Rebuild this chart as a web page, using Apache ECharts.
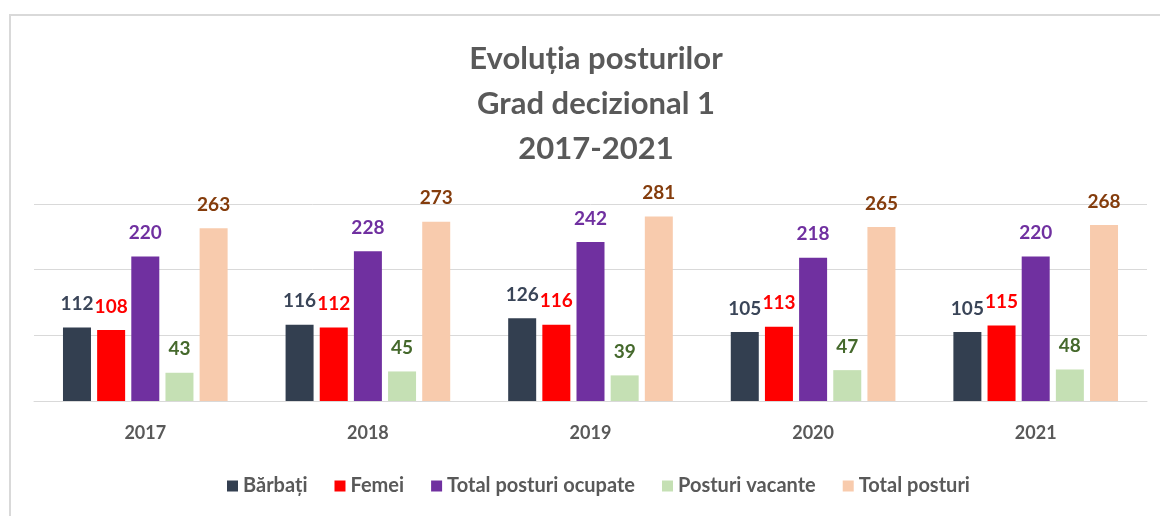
<!DOCTYPE html>
<html>
<head>
<meta charset="utf-8">
<script src="https://cdn.jsdelivr.net/npm/echarts@6/dist/echarts.min.js"></script>
<style>
    html, body {margin: 0; padding: 0; background: #fff;}
    #main {width: 1160px; height: 516px;}
</style>
</head>
<body>
<div id="main"></div>
<script>
    // date
    var years = ['2017', '2018', '2019', '2020', '2021'];
    var barbati = [112, 116, 126, 105, 105];
    var femei = [108, 112, 116, 113, 115];
    var totalOcupate = [220, 228, 242, 218, 220];
    var vacante = [43, 45, 39, 47, 48];
    var totalPosturi = [263, 273, 281, 265, 268];

    var font = 'Lato, "Open Sans", sans-serif';
    var gray = '#595959';

    function bar(name, data, color, labelColor) {
        return {
            name: name,
            type: 'bar',
            data: data,
            barWidth: 28,
            barGap: '22%',
            itemStyle: {color: color},
            label: {
                show: true,
                position: 'top',
                distance: 14,
                color: labelColor,
                fontFamily: font,
                fontWeight: 'bold',
                fontSize: 19
            }
        };
    }

    var myChart = echarts.init(document.getElementById('main'));
    myChart.setOption({
        animation: false,
        backgroundColor: '#fff',
        textStyle: {fontFamily: font},
        graphic: [{
            type: 'rect',
            shape: {x: 10, y: 15, width: 1200, height: 600},
            style: {fill: 'none', stroke: '#d9d9d9', lineWidth: 2},
            z: -1
        }],
        title: {
            text: 'Evoluția posturilor\nGrad decizional 1\n2017-2021',
            left: 591,
            top: 31,
            textAlign: 'center',
            textStyle: {
                color: gray,
                fontFamily: font,
                fontWeight: 'bold',
                fontSize: 31,
                lineHeight: 45
            }
        },
        legend: {
            top: 471,
            left: 222,
            itemWidth: 11,
            itemHeight: 11,
            itemGap: 27,
            icon: 'rect',
            textStyle: {color: gray, fontFamily: font, fontWeight: 'bold', fontSize: 20}
        },
        grid: {left: 34, right: 13, top: 204, bottom: 115},
        xAxis: {
            type: 'category',
            data: years,
            axisLine: {lineStyle: {color: '#d9d9d9', width: 1}},
            axisTick: {show: false},
            axisLabel: {color: gray, fontFamily: font, fontWeight: 'bold', fontSize: 18, margin: 23}
        },
        yAxis: {
            type: 'value',
            min: 0,
            max: 300,
            interval: 100,
            axisLabel: {show: false},
            axisLine: {show: false},
            axisTick: {show: false},
            splitLine: {lineStyle: {color: '#d9d9d9', width: 1}}
        },
        series: [
            bar('Bărbați', barbati, '#333f50', '#3a4558'),
            bar('Femei', femei, '#ff0000', '#ff0000'),
            bar('Total posturi ocupate', totalOcupate, '#7030a0', '#7030a0'),
            bar('Posturi vacante', vacante, '#c5e0b4', '#45692c'),
            bar('Total posturi', totalPosturi, '#f8cbad', '#843c0c')
        ]
    });
</script>
</body>
</html>
